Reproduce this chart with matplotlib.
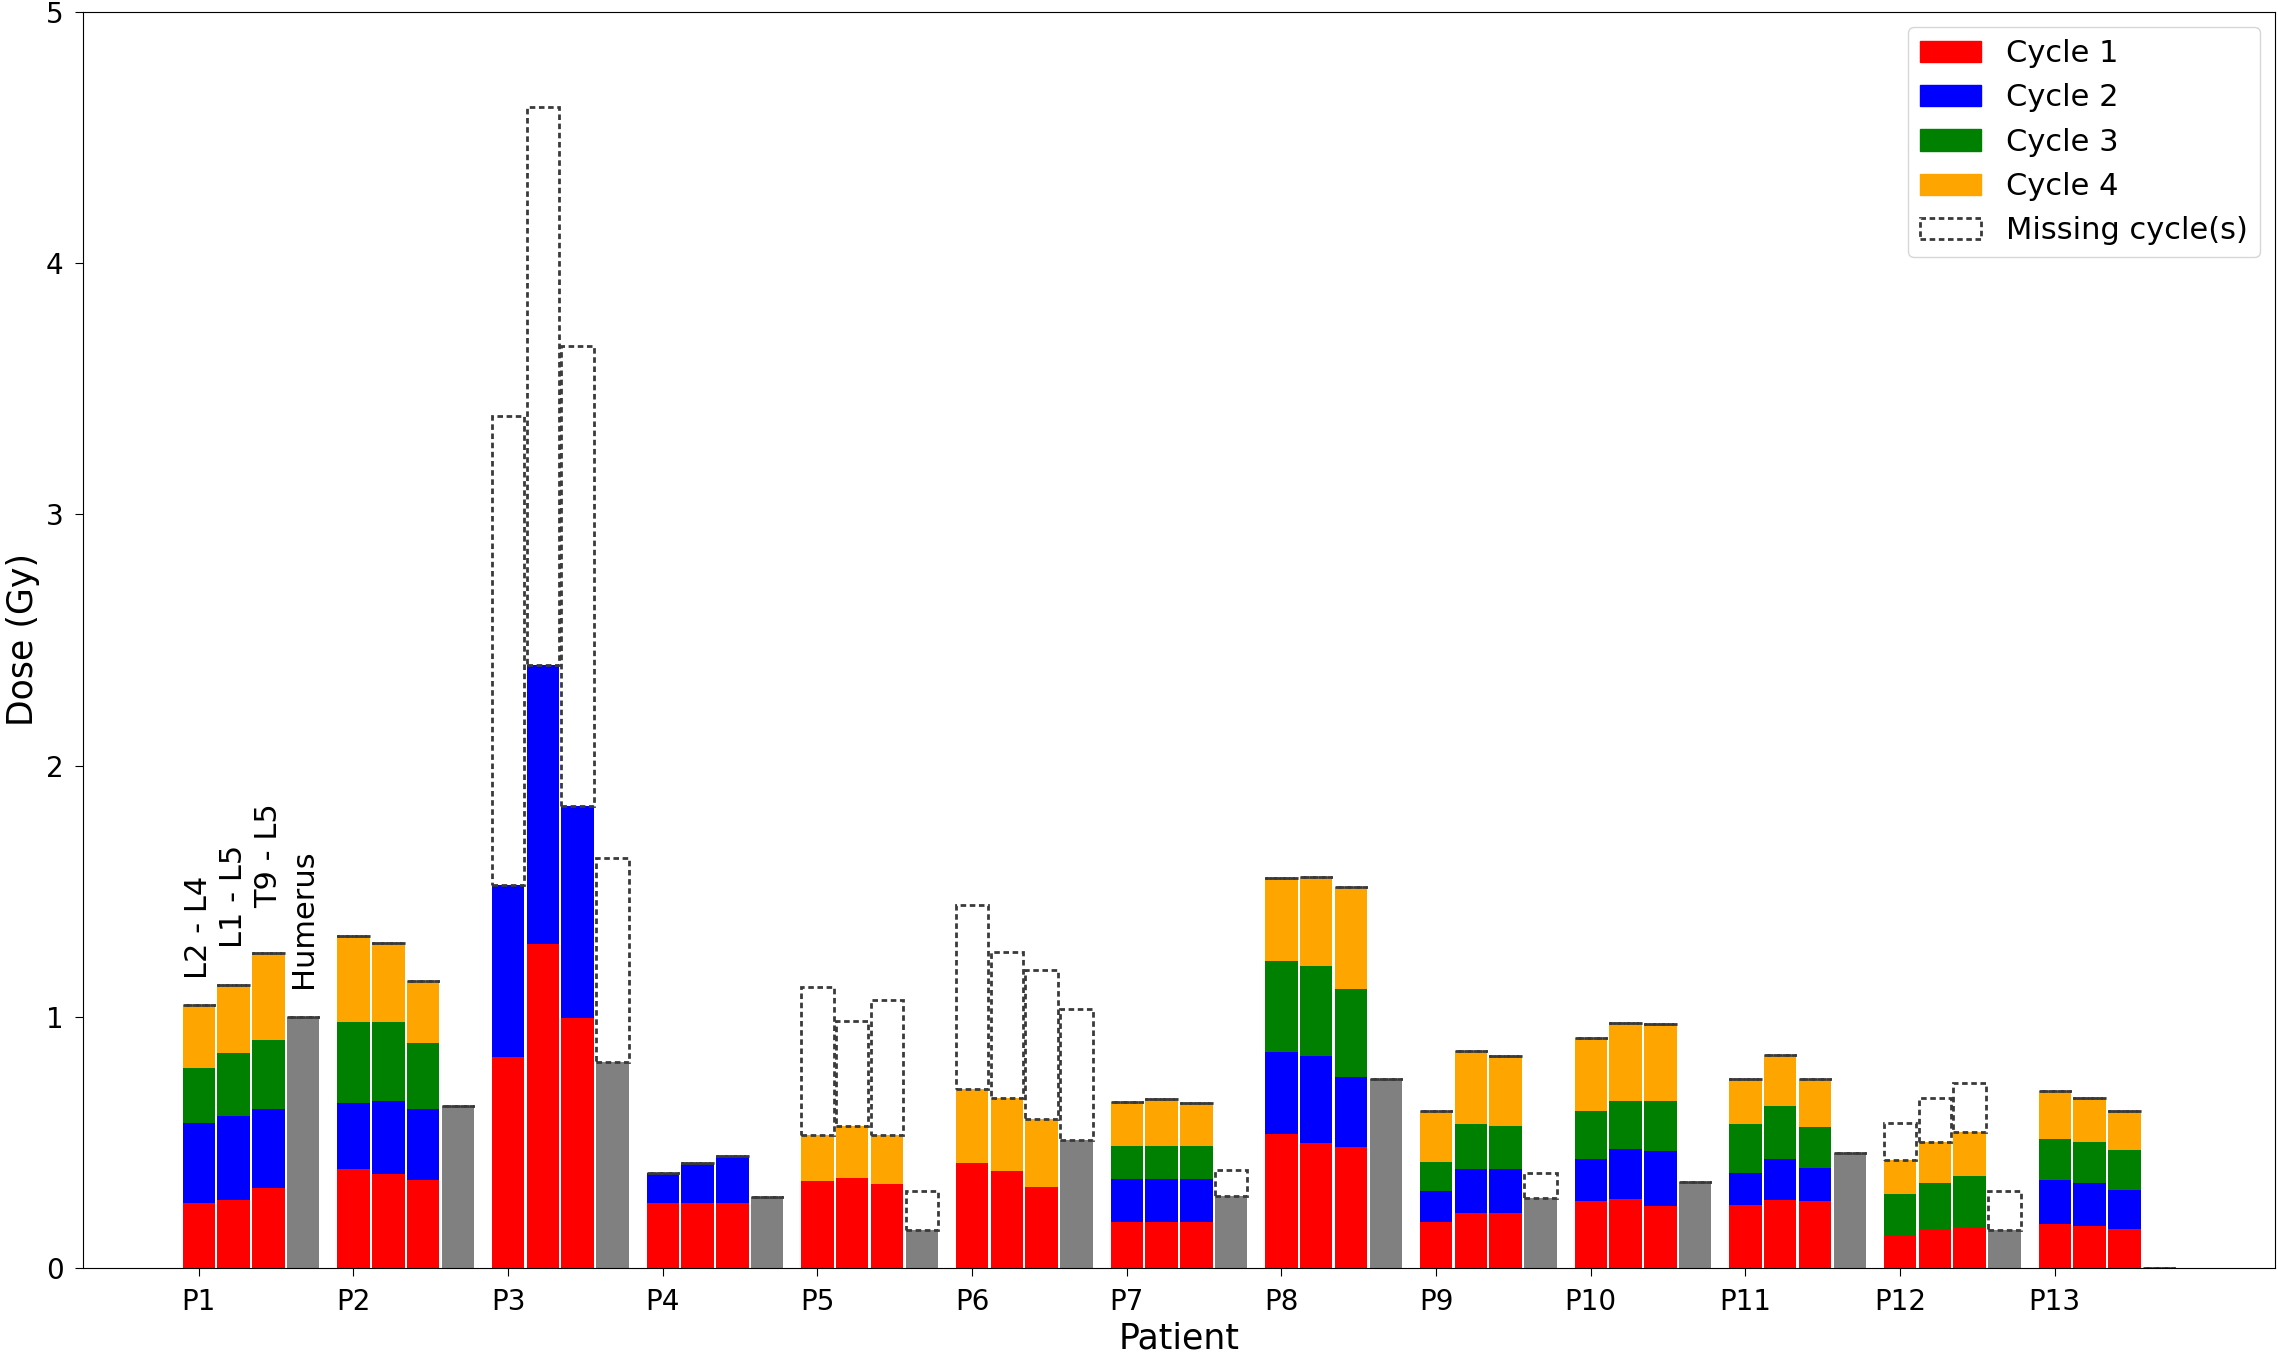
import matplotlib
matplotlib.use('Agg')
from matplotlib import pyplot as plt
from matplotlib.patches import Patch
import numpy as np

patients = ['P1', 'P2', 'P3', 'P4', 'P5', 'P6', 'P7', 'P8', 'P9', 'P10', 'P11', 'P12', 'P13']
sites = ['L2 - L4', 'L1 - L5', 'T9 - L5', 'Humerus']

# dose per cycle, one row per patient: [L2 - L4, L1 - L5, T9 - L5]
cycle1 = [[0.26, 0.273, 0.32], [0.395, 0.373, 0.349], [0.84, 1.29, 0.997],
          [0.26, 0.26, 0.26], [0.346, 0.357, 0.333], [0.419, 0.386, 0.324],
          [0.183, 0.183, 0.183], [0.535, 0.499, 0.481], [0.183, 0.22, 0.22],
          [0.267, 0.276, 0.249], [0.251, 0.273, 0.267], [0.127, 0.154, 0.163],
          [0.176, 0.167, 0.154]]
cycle2 = [[0.318, 0.332, 0.312], [0.263, 0.292, 0.283], [0.685, 1.11, 0.844],
          [0.12, 0.16, 0.187], [0, 0, 0], [0, 0, 0],
          [0.17, 0.17, 0.17], [0.326, 0.345, 0.28], [0.126, 0.175, 0.175],
          [0.168, 0.2, 0.217], [0.128, 0.16, 0.13], [0, 0, 0],
          [0.173, 0.173, 0.159]]
cycle3 = [[0.219, 0.252, 0.274], [0.321, 0.314, 0.265], [0, 0, 0],
          [0, 0, 0], [0, 0, 0], [0, 0, 0],
          [0.135, 0.135, 0.135], [0.363, 0.358, 0.348], [0.114, 0.177, 0.17],
          [0.192, 0.191, 0.201], [0.193, 0.212, 0.165], [0.169, 0.183, 0.203],
          [0.167, 0.163, 0.159]]
cycle4 = [[0.252, 0.268, 0.349], [0.342, 0.315, 0.245], [0, 0, 0],
          [0, 0, 0], [0.183, 0.208, 0.196], [0.292, 0.292, 0.268],
          [0.174, 0.186, 0.17], [0.327, 0.355, 0.408], [0.204, 0.294, 0.279],
          [0.287, 0.309, 0.303], [0.179, 0.205, 0.189], [0.134, 0.166, 0.175],
          [0.188, 0.175, 0.153]]
missing = [[0, 0, 0], [0, 0, 0], [1.865, 2.22, 1.827],
           [0, 0, 0], [0.59, 0.418, 0.537], [0.736, 0.581, 0.594],
           [0, 0, 0], [0, 0, 0], [0, 0, 0],
           [0, 0, 0], [0, 0, 0], [0.148, 0.175, 0.194],
           [0, 0, 0]]
humerus = [1.0, 0.645, 0.822, 0.283, 0.15, 0.512, 0.286, 0.751, 0.28, 0.342, 0.459, 0.15, 0.0]
humerus_missing = [0, 0, 0.81, 0, 0.156, 0.521, 0.103, 0, 0.099, 0, 0, 0.156, 0]

cycle_colors = ['red', 'blue', 'green', 'orange']
step = 0.225
width = 0.21
dash_col = '#3a3a3a'
dash_ls = (0, (2, 1.3))

fig = plt.figure(figsize=(22.78, 13.52), dpi=100)
ax = fig.add_axes([0.0364, 0.062, 0.9623, 0.9294])

x = np.arange(len(patients))
cycles = [np.array(cycle1), np.array(cycle2), np.array(cycle3), np.array(cycle4)]
miss = np.array(missing)

for s in range(3):
    xs = x + s * step
    bottom = np.zeros(len(patients))
    for c in range(4):
        ax.bar(xs, cycles[c][:, s], width, bottom=bottom, color=cycle_colors[c])
        bottom = bottom + cycles[c][:, s]
    ax.bar(xs, miss[:, s], width, bottom=bottom, fill=False,
           edgecolor=dash_col, linestyle=dash_ls, linewidth=2)

xh = x + 3 * step
ax.bar(xh, humerus, width, color='grey')
ax.bar(xh, humerus_missing, width, bottom=humerus, fill=False,
       edgecolor=dash_col, linestyle=dash_ls, linewidth=2)

# site labels above the first patient
tops = [sum(cyc[0][s] for cyc in cycles) for s in range(3)] + [humerus[0]]
offsets = [0.1, 0.15, 0.18, 0.115]
for s in range(4):
    ax.text(x[0] + s * step, tops[s] + offsets[s], sites[s], rotation=90,
            ha='center', va='bottom', fontsize=22)

ax.set_xticks(x)
ax.set_xticklabels(patients)
ax.set_ylim(0, 5)
ax.tick_params(labelsize=20, length=6, pad=8)
ax.set_xlabel('Patient', fontsize=25, labelpad=4)
ax.set_ylabel('Dose (Gy)', fontsize=25)

handles = [Patch(color=cycle_colors[c], label='Cycle %d' % (c + 1)) for c in range(4)]
handles.append(Patch(fill=False, edgecolor=dash_col, linestyle=dash_ls, linewidth=2,
                     label='Missing cycle(s)'))
ax.legend(handles=handles, loc='upper right', fontsize=22)

fig.savefig('out.png', dpi=100)
